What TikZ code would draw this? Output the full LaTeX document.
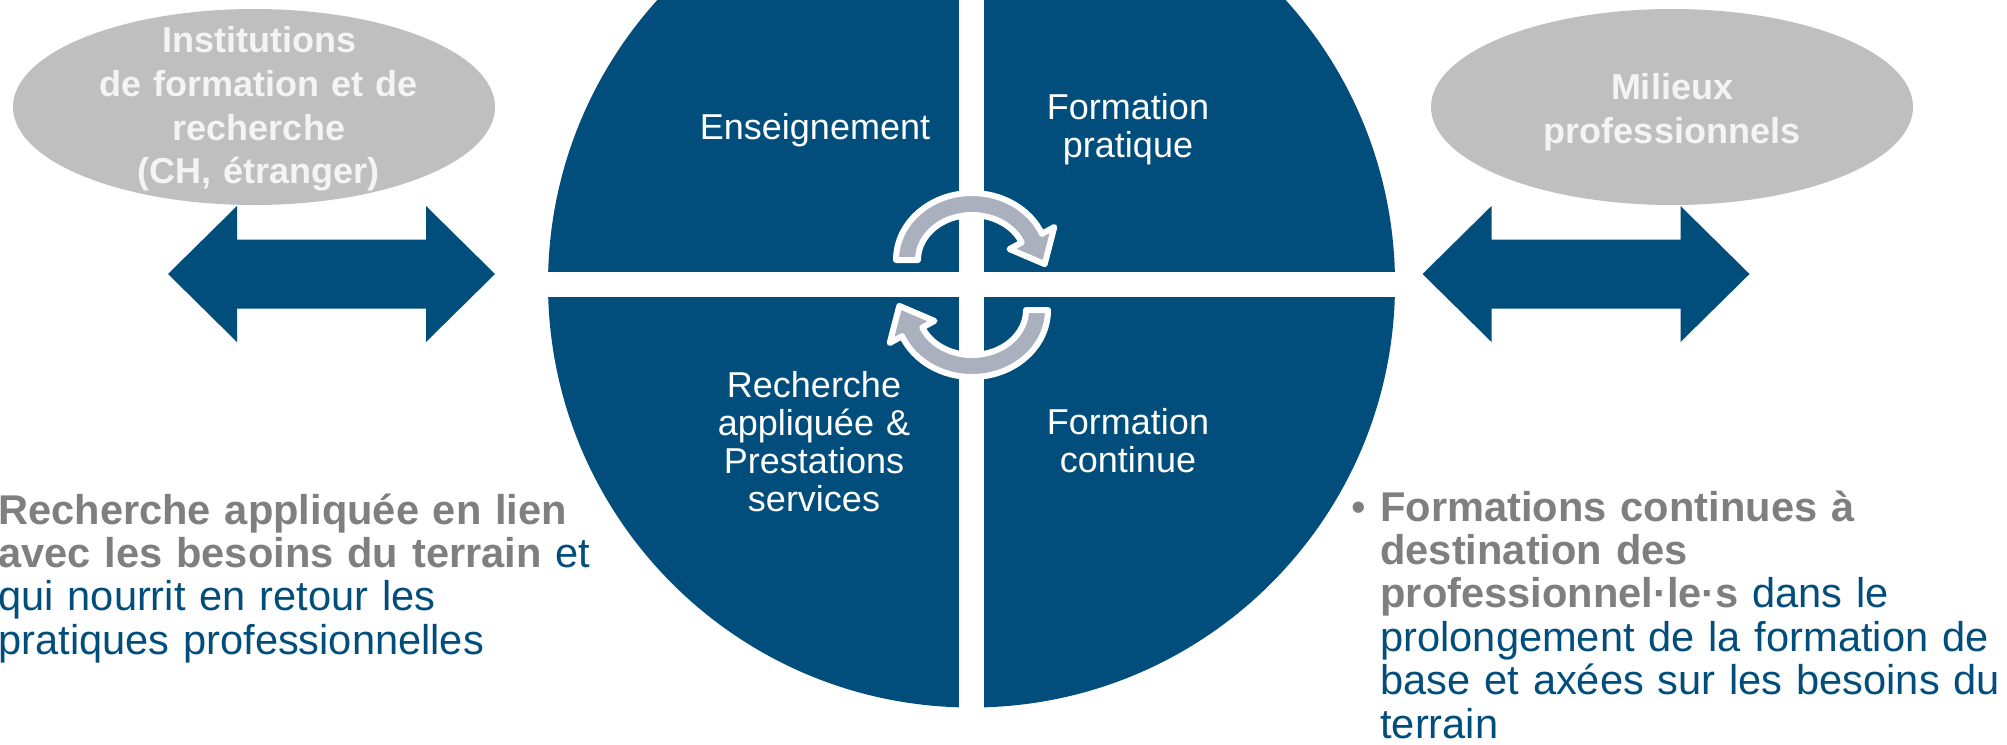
\documentclass[tikz,border=0pt]{standalone}
\usepackage{fontspec}
\setmainfont{Liberation Sans}
\usetikzlibrary{shapes.geometric}
\definecolor{hblue}{HTML}{014E7D}
\definecolor{ellgray}{HTML}{BFBFBF}
\definecolor{txtgray}{HTML}{7F7F7F}
\definecolor{cycgray}{HTML}{AAB0BE}
\definecolor{elltxt}{HTML}{F4F4F4}
\begin{document}
\begin{tikzpicture}[x=0.5pt, y=-0.5pt,
  quadtext/.style={text=white, font=\fontsize{18}{19}\selectfont, align=center, text width=150pt, inner sep=0pt, anchor=base},
  elltext/.style={text=elltxt, font=\bfseries\fontsize{18}{22}\selectfont, align=center, text width=220pt, inner sep=0pt, anchor=base},
  ellbox/.style={ellipse, fill=ellgray, inner sep=0pt, minimum width=241pt, minimum height=98pt},
  bodytext/.style={text=hblue, font=\fontsize{20.8}{21.7}\selectfont, align=left, text width=330pt, inner sep=0pt, anchor=base west},
  cycarrow/.pic={
    \filldraw[fill=cycgray, draw=white, line width=3pt, line join=round]
      (180:76 and 67) arc[start angle=180, end angle=337, x radius=76, y radius=67]
      -- (82.3,-33.0) -- (72.7,4.1) -- (37.5,-10.9)
      -- (337:54 and 45) arc[start angle=337, end angle=180, x radius=54, y radius=45] -- cycle;
  },
  dblarrow/.pic={
    \fill[hblue] (-163.5,0) -- (-94.5,-68) -- (-94.5,-34.5) -- (94.5,-34.5) -- (94.5,-68)
      -- (163.5,0) -- (94.5,68) -- (94.5,34.5) -- (-94.5,34.5) -- (-94.5,68) -- cycle;
  }
]
\useasboundingbox (0,0) rectangle (2007,744);
\clip (0,0) rectangle (2007,744);
\fill[white] (0,0) rectangle (2007,744);

% central circle divided into four quadrants
\fill[hblue] (971.5,284) circle[radius=423.5];
\fill[white] (959,-20) rectangle (984,760);
\fill[white] (530,272) rectangle (1410,297);

% cycle arrows
\pic at (972,260) {cycarrow};
\pic[rotate=180] at (972,310) {cycarrow};

% quadrant labels
\node[quadtext] (ens) at (815,139) {Enseignement};
\node[quadtext] (fprat) at (1128,119) {Formation\\pratique};
\node[quadtext] (rech) at (814,397) {Recherche\\appliquée \&\\Prestations\\services};
\node[quadtext] (fcont) at (1128,434) {Formation\\continue};

% ellipses
\node[ellbox] (inst) at (254,107) {};
\node[elltext] (insttxt) at (259,52) {Institutions\\de formation et de\\recherche\\(CH, étranger)};
\node[ellbox] (milieux) at (1672,107) {};
\node[elltext] (milieuxtxt) at (1672,99) {Milieux\\professionnels};

% double arrows
\pic at (331.5,274) {dblarrow};
\pic at (1586,274) {dblarrow};

% descriptions
\node[bodytext] (rechdesc) at (-2,524) {{\bfseries\color{txtgray}Recherche appliquée en lien}\\{\bfseries\color{txtgray}avec les besoins du terrain} et\\qui nourrit en retour les\\pratiques professionnelles};
\node[bodytext] (fcdesc) at (1380,521) {\llap{{\color{txtgray}\textbullet}\hspace{7pt}}{\bfseries\color{txtgray}Formations continues à}\\{\bfseries\color{txtgray}destination des}\\{\bfseries\color{txtgray}professionnel·le·s} dans le\\prolongement de la formation de\\base et axées sur les besoins du\\terrain};
\end{tikzpicture}
\end{document}
